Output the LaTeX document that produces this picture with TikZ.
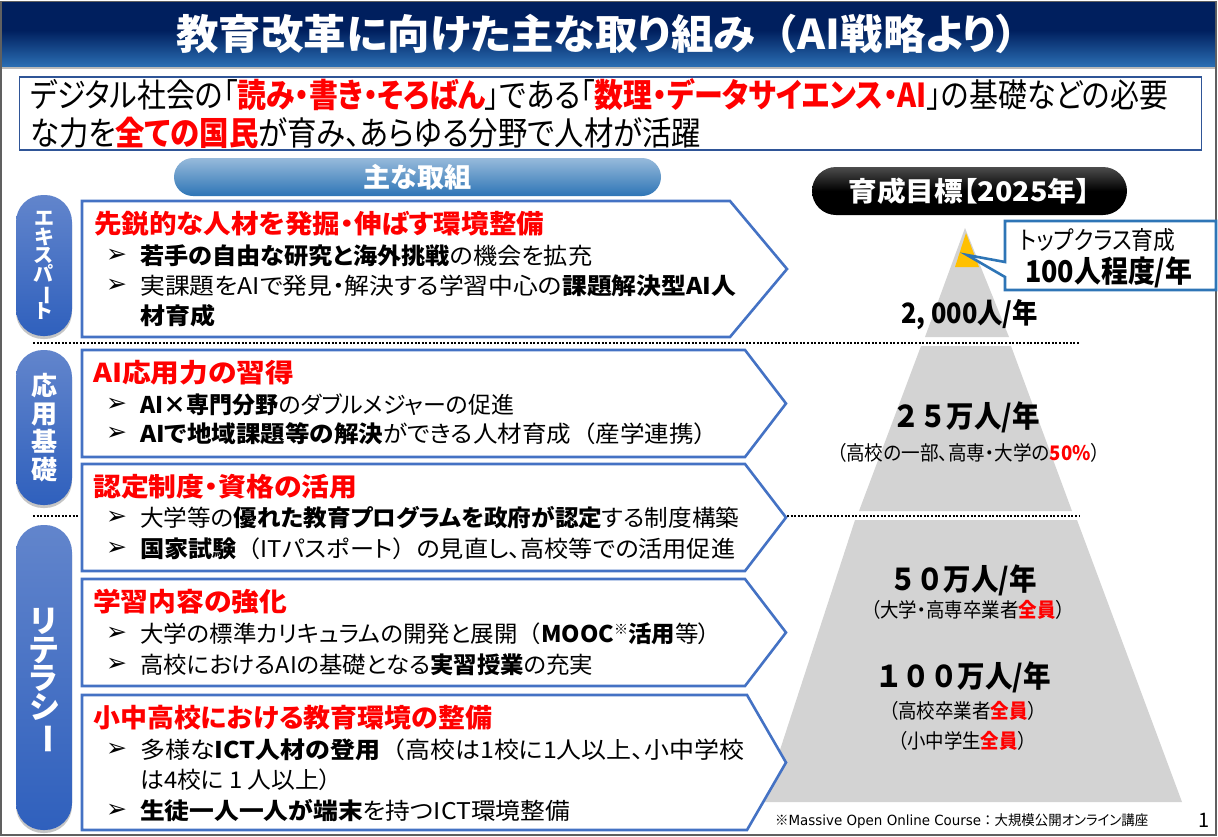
\documentclass[tikz,border=0pt]{standalone}
\usepackage{graphicx}
\usepackage{xcolor}
\usepackage{fontspec}
\setmainfont{Noto Sans CJK JP}[RawFeature=+palt]
\newfontfamily\fullfont{Noto Sans CJK JP}
\newfontfamily\arrowfont{DejaVu Sans}
\usepackage{tikz}
\usetikzlibrary{shadows}

\definecolor{bannerdark}{HTML}{001F5E}
\definecolor{bannerblue}{HTML}{2A6DB2}
\definecolor{planblue}{HTML}{4472C4}
\definecolor{calloutblue}{HTML}{2E75B6}
\definecolor{pyramidgray}{HTML}{D3D3D3}
\definecolor{topyellow}{HTML}{FFC000}
\definecolor{introblue}{HTML}{2F5597}
\definecolor{pilltop}{HTML}{6285CC}
\definecolor{pillbottom}{HTML}{2F60BD}
\pgfdeclareverticalshading{bannershade}{100bp}{color(0bp)=(bannerblue); color(25bp)=(bannerblue); color(53bp)=(bannerdark); color(100bp)=(bannerdark)}

\setlength{\lineskiplimit}{-100pt}
\newcommand{\fitw}[2]{\resizebox{#1pt}{\height}{#2}}
\newcommand{\hot}[1]{\textcolor{red}{\textbf{#1}}}
\newcommand{\fp}[1]{{\fullfont #1}}
\newcommand{\barglyph}{\smash{\rotatebox[origin=c]{-90}{ー}}}

\tikzset{
  txt/.style={inner sep=0pt, anchor=west, text=black},
  titletxt/.style={txt, text=red, font=\bfseries\fontsize{26}{30}\selectfont},
  linetxt/.style={txt, font=\fontsize{23}{27}\selectfont},
  bullettxt/.style={txt, font=\arrowfont\fontsize{25}{28}\selectfont},
  introtxt/.style={txt, font=\fontsize{33}{36}\selectfont},
  goaltxt/.style={inner sep=0pt, font=\fullfont\bfseries\fontsize{30}{33}\selectfont},
  subtxt/.style={inner sep=0pt, font=\fontsize{20}{24}\selectfont},
  planbox/.style={draw=planblue, line width=2.6pt, fill=white, line join=miter},
  sidepill/.style={rounded corners=27pt, minimum width=56pt, inner sep=0pt, align=center, text=white,
    top color=pilltop, bottom color=pillbottom,
    drop shadow={shadow xshift=0pt, shadow yshift=-3pt, opacity=.45}},
}

\begin{document}
\begin{tikzpicture}[x=1pt, y=-1pt]
    \useasboundingbox (0,0) rectangle (1218,836);
    \fill[white] (0,0) rectangle (1218,836);

    % Banner
    \draw[gray!75!black, line width=1.5pt] (1,2) rectangle (1216,835);
    \fill[gray!55] (2,66) rectangle (1215,69);
    \shade[shading=bannershade] (2,2) rectangle (1215,66);
    \node[inner sep=0pt, text=white, font=\bfseries\fontsize{41}{45}\selectfont] (title) at (597,34) {\fitw{841}{教育改革に向けた主な取り組み\fp{（}AI戦略より）}};

    % Intro
    \draw[introblue, line width=1.6pt, fill=white] (19.5,77) rectangle (1201.5,150);
    \node[introtxt] (introa) at (30,95) {\fitw{1138}{デジタル社会の「\hot{読み・書き・そろばん}」である「\hot{数理・データサイエンス・AI}」の基礎などの必要}};
    \node[introtxt] (introb) at (30,133) {\fitw{671}{な力を\hot{全ての国民}が育み、あらゆる分野で人材が活躍}};

    % Headers
    \node[rounded corners=19pt, minimum width=487pt, minimum height=38pt, top color=calloutblue!50!white, bottom color=calloutblue, text=white, font=\bfseries\fontsize{27}{30}\selectfont, inner sep=0pt] (mainhead) at (417.5,177) {\fitw{108}{主な取組}};
    \node[rounded corners=24pt, minimum width=315pt, minimum height=48pt, top color=black!70, bottom color=black, middle color=black, text=white, font=\bfseries\fontsize{27}{30}\selectfont, inner sep=0pt] (goalhead) at (969.5,191) {\fitw{242}{育成目標【2025年】}};

    % Dotted rules
    \coordinate (rulea) at (33,343);
    \coordinate (ruleb) at (1080,343);
    \coordinate (rulec) at (33,516);
    \coordinate (ruled) at (78,516);
    \coordinate (rulee) at (787,516);
    \coordinate (rulef) at (1080,516);
    \draw[line width=2pt, dash pattern=on 2pt off 1.6pt] (rulea) -- (ruleb);
    \draw[line width=2pt, dash pattern=on 2pt off 1.6pt] (rulec) -- (ruled);
    \draw[line width=2pt, dash pattern=on 2pt off 1.6pt] (rulee) -- (rulef);

    % Side labels
    \node[sidepill, minimum height=141pt, font=\bfseries\fontsize{20}{18.6}\selectfont] (expert) at (44,265.5) {エ\\キ\\ス\\パ\\\barglyph\\ト};
    \node[sidepill, minimum height=155pt, font=\bfseries\fontsize{26}{28}\selectfont] (applied) at (44,427.5) {応\\用\\基\\礎};
    \node[sidepill, minimum height=305pt, font=\bfseries\fontsize{31}{28.5}\selectfont] (literacy) at (44,677.5) {リ\\テ\\ラ\\シ\\\barglyph};

    % Pyramid
    \fill[pyramidgray] (965,228) -- (1009,337) -- (925,337) -- cycle;
    \fill[pyramidgray] (921,346) -- (1011,346) -- (1072,511) -- (859,511) -- cycle;
    \fill[pyramidgray] (855,520) -- (1077,520) -- (1182,802) -- (763,802) -- cycle;
    \fill[topyellow] (966,233) -- (979,267) -- (955,267) -- cycle;

    % Callout
    \draw[calloutblue, line width=2.6pt, fill=white, line join=miter] (1005,221) -- (1216,221) -- (1216,290) -- (1005,290) -- (1005,277) -- (967,255) -- (1005,262) -- cycle;
    \node[txt, font=\fontsize{25}{28}\selectfont] (topa) at (1020,240) {\fitw{155}{トップクラス育成}};
    \node[txt, font=\bfseries\fontsize{30}{33}\selectfont] (topb) at (1025,272) {\fitw{167}{100人程度/年}};

    % Plan 1
    \draw[planbox] (82,201) -- (730,201) -- (787,269) -- (730,337) -- (82,337) -- cycle;
    \node[titletxt] (plana) at (94,224) {\fitw{450}{先鋭的な人材を発掘・伸ばす環境整備}};
    \node[bullettxt] (bulaa) at (106,256) {➢};
    \node[linetxt] (linaa) at (140,256) {\fitw{452}{\textbf{若手の自由な研究と海外挑戦}の機会を拡充}};
    \node[bullettxt] (bulab) at (106,286) {➢};
    \node[linetxt] (linab) at (140,286) {\fitw{596}{実課題をAIで発見・解決する学習中心の\textbf{課題解決型AI人}}};
    \node[linetxt] (linac) at (140,316) {\fitw{75}{\textbf{材育成}}};

    % Plan 2
    \draw[planbox] (82,350) -- (745,350) -- (786,403.5) -- (745,457) -- (82,457) -- cycle;
    \node[titletxt] (planb) at (93,373) {\fitw{201}{AI応用力の習得}};
    \node[bullettxt] (bulba) at (106,405) {➢};
    \node[linetxt] (linba) at (140,405) {\fitw{374}{\textbf{AI×専門分野}のダブルメジャーの促進}};
    \node[bullettxt] (bulbb) at (106,434) {➢};
    \node[linetxt] (linbb) at (140,434) {\fitw{566}{\textbf{AIで地域課題等の解決}ができる人材育成\fp{（}産学連携）}};

    % Plan 3
    \draw[planbox] (82,464) -- (745,464) -- (786,517.5) -- (745,571) -- (82,571) -- cycle;
    \node[titletxt] (planc) at (93,487) {\fitw{264}{認定制度・資格の活用}};
    \node[bullettxt] (bulca) at (106,518) {➢};
    \node[linetxt] (linca) at (140,518) {\fitw{599}{大学等の\textbf{優れた教育プログラムを政府が認定}する制度構築}};
    \node[bullettxt] (bulcb) at (106,549) {➢};
    \node[linetxt] (lincb) at (140,549) {\fitw{595}{\textbf{国家試験}\fp{（}ITパスポート\fp{）}の見直し、高校等での活用促進}};

    % Plan 4
    \draw[planbox] (82,579) -- (745,579) -- (786,632.5) -- (745,686) -- (82,686) -- cycle;
    \node[titletxt] (pland) at (93,602) {\fitw{194}{学習内容の強化}};
    \node[bullettxt] (bulda) at (106,634) {➢};
    \node[linetxt] (linda) at (140,634) {\fitw{570}{大学の標準カリキュラムの開発と展開\fp{（}\textbf{MOOC}\raisebox{.35em}{\scalebox{.6}{※}}\textbf{活用}等）}};
    \node[bullettxt] (buldb) at (106,665) {➢};
    \node[linetxt] (lindb) at (140,665) {\fitw{453}{高校におけるAIの基礎となる\textbf{実習授業}の充実}};

    % Plan 5
    \draw[planbox] (82,695) -- (747,695) -- (786,762.5) -- (747,830) -- (82,830) -- cycle;
    \node[titletxt] (plane) at (93,718) {\fitw{399}{小中高校における教育環境の整備}};
    \node[bullettxt] (bulea) at (106,750) {➢};
    \node[linetxt] (linea) at (140,750) {\fitw{604}{多様な\textbf{ICT人材の登用}\fp{（}高校は1校に1人以上、小中学校}};
    \node[linetxt] (lineb) at (140,780) {\fitw{191}{は4校に 1 人以上）}};
    \node[bullettxt] (buleb) at (106,811) {➢};
    \node[linetxt] (linec) at (140,811) {\fitw{430}{\textbf{生徒一人一人が端末}を持つICT環境整備}};

    % Targets
    \node[goaltxt, font=\fullfont\bfseries\fontsize{28}{31}\selectfont] (goala) at (969.5,315) {\fitw{137}{2, 000人/年}};
    \node[goaltxt] (goalb) at (966,417) {\fitw{148}{２５万人/年}};
    \node[subtxt] (subb) at (968.5,453) {\fitw{263}{（高校の一部、高専・大学の\hot{50\%}）}};
    \node[goaltxt] (goalc) at (963,580) {\fitw{148}{５０万人/年}};
    \node[subtxt] (subc) at (968,610) {\fitw{194}{（大学・高専卒業者\hot{全員}）}};
    \node[goaltxt] (goald) at (963,677) {\fitw{176}{１００万人/年}};
    \node[subtxt] (subd) at (963,711) {\fitw{148}{（高校卒業者\hot{全員}）}};
    \node[subtxt] (sube) at (962.5,741) {\fitw{129}{（小中学生\hot{全員}）}};

    % Footnote
    \node[txt, font=\fontsize{14}{17}\selectfont] (note) at (775,821) {\fitw{373}{※{\arrowfont Massive Open Online Course}\fp{：}大規模公開オンライン講座}};
    \node[txt, font=\fontsize{20}{24}\selectfont] (page) at (1198,820) {1};
\end{tikzpicture}
\end{document}
